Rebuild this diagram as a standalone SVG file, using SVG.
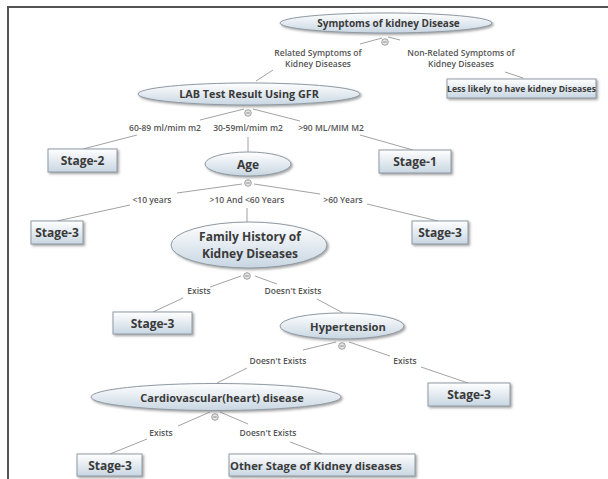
<svg xmlns="http://www.w3.org/2000/svg" width="608" height="479" viewBox="0 0 608 479">
<style>
.n{fill:url(#g);stroke:#8f9aa3;stroke-width:1;filter:url(#sh)}
.t{font-family:"Open Sans","Noto Sans",sans-serif;font-weight:700;fill:#3a3a3a;text-anchor:middle}
.l{font-family:"Open Sans","Noto Sans",sans-serif;font-weight:600;fill:#555;text-anchor:middle;font-size:8.5px}
.c{stroke:#8a8a8a;stroke-width:0.8;fill:none}
.h{fill:#e6e6e6;stroke:#8a8a8a;stroke-width:0.8}
</style>
<defs>
<linearGradient id="g" x1="0" y1="0" x2="0" y2="1">
<stop offset="0" stop-color="#ffffff"/>
<stop offset="1" stop-color="#c8d6e2"/>
</linearGradient>
<filter id="sh" x="-10%" y="-20%" width="130%" height="160%">
<feDropShadow dx="1.5" dy="1.5" stdDeviation="0.8" flood-color="#666" flood-opacity="0.6"/>
</filter>
<g id="mk"><circle class="h" r="3.3"/><line x1="-1.8" y1="0" x2="1.8" y2="0" stroke="#777" stroke-width="0.8"/></g>
</defs>
<rect width="608" height="479" fill="#fff"/>
<path d="M8 479 V7 H608" fill="none" stroke="#555" stroke-width="2"/>

<g id="connectors">
<line class="c" x1="382" y1="38" x2="360" y2="44"/>
<line class="c" x1="273" y1="70" x2="256" y2="81"/>
<line class="c" x1="388" y1="37" x2="400" y2="40"/>
<line class="c" x1="505" y1="72" x2="523" y2="78"/>
<line class="c" x1="244" y1="109" x2="200" y2="120"/>
<line class="c" x1="137" y1="135" x2="83" y2="149"/>
<line class="c" x1="248" y1="137" x2="248" y2="152"/>
<line class="c" x1="253" y1="109" x2="300" y2="121"/>
<line class="c" x1="360" y1="135" x2="413" y2="150"/>
<line class="c" x1="242" y1="184" x2="177" y2="193"/>
<line class="c" x1="130" y1="205" x2="57" y2="221"/>
<line class="c" x1="247" y1="208" x2="247" y2="222"/>
<line class="c" x1="254" y1="184" x2="320" y2="194"/>
<line class="c" x1="367" y1="204" x2="438" y2="221"/>
<line class="c" x1="241" y1="276" x2="210" y2="287"/>
<line class="c" x1="183" y1="298" x2="153" y2="312"/>
<line class="c" x1="255" y1="276" x2="277" y2="284"/>
<line class="c" x1="317" y1="299" x2="343" y2="313"/>
<line class="c" x1="336" y1="342" x2="303" y2="350"/>
<line class="c" x1="247" y1="368" x2="217" y2="383"/>
<line class="c" x1="349" y1="342" x2="390" y2="356"/>
<line class="c" x1="421" y1="367" x2="468" y2="383"/>
<line class="c" x1="210" y1="412" x2="178" y2="426"/>
<line class="c" x1="147" y1="439" x2="110" y2="454"/>
<line class="c" x1="220" y1="412" x2="248" y2="424"/>
<line class="c" x1="290" y1="442" x2="322" y2="454"/>
</g>

<g id="symptoms">
<ellipse class="n" cx="386" cy="23" rx="106" ry="10"/>
<text class="t" x="388.5" y="27" font-size="10">Symptoms of kidney Disease</text>
<use href="#mk" x="385" y="42"/>
</g>
<g id="lbl-related"><text class="l" x="318" y="56">Related Symptoms of</text><text class="l" x="318" y="67">Kidney Diseases</text></g>
<g id="lbl-nonrelated"><text class="l" x="461" y="56">Non-Related Symptoms of</text><text class="l" x="461" y="67">Kidney Diseases</text></g>
<g id="less-likely">
<rect class="n" x="447" y="79" width="149" height="19"/>
<text class="t" x="521.5" y="92" font-size="8.6">Less likely to have kidney Diseases</text>
</g>
<g id="lab">
<ellipse class="n" cx="249" cy="94" rx="111" ry="11"/>
<text class="t" x="249" y="98" font-size="10.8">LAB Test Result Using GFR</text>
<use href="#mk" x="248" y="113"/>
</g>
<g id="lbl-6089"><text class="l" x="165" y="131">60-89 ml/mim m2</text></g>
<g id="lbl-3059"><text class="l" x="248" y="131">30-59ml/mim m2</text></g>
<g id="lbl-90"><text class="l" x="331" y="131">&gt;90 ML/MIM M2</text></g>
<g id="stage2">
<rect class="n" x="48" y="149" width="69" height="23"/>
<text class="t" x="82.5" y="165" font-size="12">Stage-2</text>
</g>
<g id="stage1">
<rect class="n" x="379" y="150" width="72" height="23"/>
<text class="t" x="415" y="166" font-size="12">Stage-1</text>
</g>
<g id="age">
<ellipse class="n" cx="248" cy="164" rx="43" ry="12"/>
<text class="t" x="248" y="168.5" font-size="12">Age</text>
<use href="#mk" x="248" y="183"/>
</g>
<g id="lbl-lt10"><text class="l" x="152" y="203">&lt;10 years</text></g>
<g id="lbl-10-60"><text class="l" x="247" y="203">&gt;10 And  &lt;60 Years</text></g>
<g id="lbl-gt60"><text class="l" x="343" y="203">&gt;60 Years</text></g>
<g id="stage3-a">
<rect class="n" x="31" y="221" width="52" height="23"/>
<text class="t" x="57" y="237" font-size="12">Stage-3</text>
</g>
<g id="stage3-b">
<rect class="n" x="412" y="221" width="56" height="23"/>
<text class="t" x="440" y="237" font-size="12">Stage-3</text>
</g>
<g id="family">
<ellipse class="n" cx="249" cy="245" rx="78" ry="23"/>
<text class="t" x="250" y="241" font-size="12">Family History of</text>
<text class="t" x="250" y="258" font-size="12">Kidney Diseases</text>
<use href="#mk" x="247" y="276"/>
</g>
<g id="lbl-exists1"><text class="l" x="199" y="294">Exists</text></g>
<g id="lbl-dexists1"><text class="l" x="293" y="294">Doesn't Exists</text></g>
<g id="stage3-c">
<rect class="n" x="113" y="312" width="79" height="22"/>
<text class="t" x="152.5" y="327.5" font-size="12">Stage-3</text>
</g>
<g id="hypertension">
<ellipse class="n" cx="342" cy="326" rx="62" ry="13"/>
<text class="t" x="348" y="330.5" font-size="11.2">Hypertension</text>
<use href="#mk" x="342" y="346"/>
</g>
<g id="lbl-dexists2"><text class="l" x="278" y="364">Doesn't Exists</text></g>
<g id="lbl-exists2"><text class="l" x="405" y="364">Exists</text></g>
<g id="stage3-d">
<rect class="n" x="428" y="383" width="82" height="23"/>
<text class="t" x="469" y="399" font-size="12">Stage-3</text>
</g>
<g id="cardio">
<ellipse class="n" cx="216" cy="397" rx="125" ry="13.5"/>
<text class="t" x="222" y="401.5" font-size="11">Cardiovascular(heart) disease</text>
<use href="#mk" x="215" y="417"/>
</g>
<g id="lbl-exists3"><text class="l" x="161" y="436">Exists</text></g>
<g id="lbl-dexists3"><text class="l" x="268" y="436">Doesn't Exists</text></g>
<g id="stage3-e">
<rect class="n" x="77" y="454" width="65" height="22"/>
<text class="t" x="110" y="469.5" font-size="12">Stage-3</text>
</g>
<g id="other">
<rect class="n" x="229" y="454" width="186" height="22"/>
<text class="t" x="316" y="469.5" font-size="11.2">Other Stage of Kidney diseases</text>
</g>
</svg>
